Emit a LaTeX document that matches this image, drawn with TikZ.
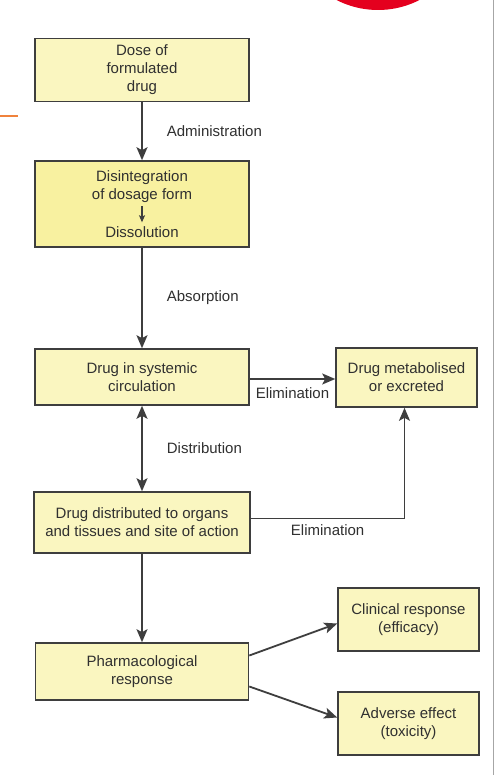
\documentclass[tikz,border=0pt]{standalone}
\usepackage{fontspec}
\setmainfont{Liberation Sans}
\definecolor{boxyellow}{RGB}{250, 246, 192}
\definecolor{deepyellow}{RGB}{248, 241, 160}
\definecolor{linegray}{RGB}{62, 62, 62}
\definecolor{textgray}{RGB}{48, 48, 48}
\definecolor{markred}{RGB}{228, 0, 30}
\definecolor{markorange}{RGB}{240, 130, 60}
\usetikzlibrary{arrows.meta, positioning, calc}

\begin{document}
\begin{tikzpicture}[x=1pt, y=-1pt,
    stagebox/.style={draw=linegray, line width=1.6pt, fill=boxyellow, text=textgray,
        align=center, inner sep=0pt, font=\fontsize{15}{18}\selectfont},
    flow/.style={-{Stealth[length=13pt, width=11pt, inset=3pt]}, line width=1.8pt, draw=linegray},
    edgelabel/.style={font=\fontsize{15}{18}\selectfont, text=textgray, inner sep=2pt, align=center}]
\useasboundingbox (0,0) rectangle (495,775);
\fill[white] (0,0) rectangle (495,775);

% screen marks
\fill[markred] (378,-81) circle (91pt);
\draw[markorange, line width=2pt] (0,116) -- (18,116);
\draw[gray!70, line width=1pt] (493,0) -- (493,775);

% left column
\node[stagebox, minimum width=214pt, minimum height=63pt] (dose) at (142,70)
    {Dose of\\formulated\\drug};
\node[stagebox, fill=deepyellow, minimum width=214pt, minimum height=86pt] (disbox) at (142,204) {};
\node[edgelabel] (disint) at (142,187) {Disintegration\\of dosage form};
\node[edgelabel] (dissol) at (142,232) {Dissolution};
\node[stagebox, minimum width=214pt, minimum height=56pt] (sys) at (142,377)
    {Drug in systemic\\circulation};
\node[stagebox, minimum width=216pt, minimum height=61pt] (organs) at (142,522.5)
    {Drug distributed to organs\\and tissues and site of action};
\node[stagebox, minimum width=213pt, minimum height=57pt] (pharma) at (142,671.5)
    {Pharmacological\\response};

% right column
\node[stagebox, minimum width=141pt, minimum height=59pt] (excr) at (406.5,377.5)
    {Drug metabolised\\or excreted};
\node[stagebox, minimum width=141pt, minimum height=63pt] (clin) at (408.5,619.5)
    {Clinical response\\(efficacy)};
\node[stagebox, minimum width=141pt, minimum height=63pt] (adv) at (408.5,723.5)
    {Adverse effect\\(toxicity)};

% arrows
\draw[-{Stealth[length=7pt, width=6pt, inset=1.5pt]}, line width=1.3pt, draw=linegray,
    shorten <=1pt, shorten >=2pt] (disint.south) -- (dissol.north);
\draw[flow] (dose) -- (disbox) node[edgelabel, midway, right=22pt] {Administration};
\draw[flow] (disbox) -- (sys) node[edgelabel, midway, right=22pt] {Absorption};
\draw[flow, {Stealth[length=13pt, width=11pt, inset=3pt]}-{Stealth[length=13pt, width=11pt, inset=3pt]}]
    (sys) -- (organs) node[edgelabel, midway, right=22pt] {Distribution};
\draw[flow] ([yshift=-2pt]sys.east) -- ([yshift=-2pt]sys.east -| excr.west)
    node[edgelabel, midway, below=6pt] {Elimination};
\draw[flow] ([yshift=4pt]organs.east) -| ([xshift=-2pt]excr.south)
    node[edgelabel, pos=0.25, below=3pt] {Elimination};
\draw[flow] (organs) -- (pharma);
\draw[flow] ([yshift=16pt]pharma.east) -- ([yshift=-4pt]clin.west);
\draw[flow] ([yshift=-15pt]pharma.east) -- ([yshift=6pt]adv.west);

\end{tikzpicture}
\end{document}
